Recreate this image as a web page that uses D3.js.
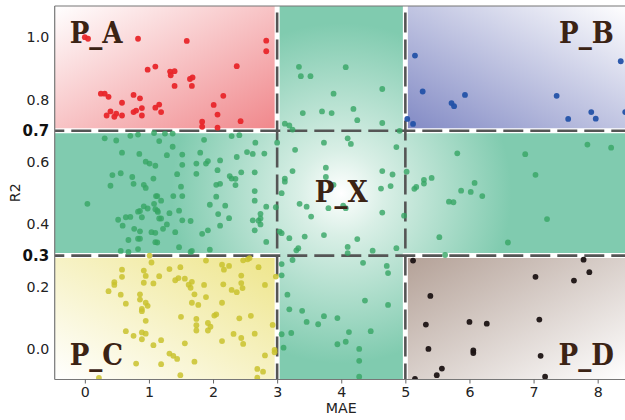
<!DOCTYPE html>
<html>
<head>
<meta charset="utf-8">
<script src="https://d3js.org/d3.v7.min.js"></script>
<style>
  body { margin: 0; background: #fff; }
  svg { display: block; }
</style>
</head>
<body>
<script>
// MAE / R2 scatter split in quadrant-like zones
var maeCuts = [3, 5];
var r2Cuts = [0.3, 0.7];
var xTicks = [0, 1, 2, 3, 4, 5, 6, 7, 8];
var yTicks = [0.0, 0.2, 0.4, 0.6, 0.8, 1.0];

var pointsA = [[0.0,1.0],[0.05,0.995],[0.83,0.995],[1.59,0.988],[2.37,0.907],[0.98,0.896],[1.10,0.906],[1.33,0.89],[1.40,0.891],[1.34,0.878],[1.64,0.866],[1.68,0.871],[1.40,0.844],[1.67,0.844],[0.25,0.819],[0.31,0.819],[0.37,0.809],[0.76,0.815],[0.86,0.804],[0.58,0.79],[2.16,0.812],[1.16,0.784],[1.10,0.774],[0.89,0.773],[2.01,0.783],[0.40,0.762],[0.49,0.755],[0.34,0.749],[0.46,0.745],[0.58,0.749],[0.76,0.76],[0.80,0.765],[0.89,0.749],[1.19,0.76],[2.07,0.752],[1.83,0.729],[2.43,0.731],[1.83,0.713],[2.07,0.71],[2.83,0.989],[2.83,0.955]];

var pointsB = [[5.93,0.815],[5.72,0.789],[5.76,0.779],[7.36,0.812],[7.54,0.738],[7.90,0.76],[7.97,0.739],[8.36,0.923],[8.43,0.76],[5.15,0.941],[5.27,0.826],[5.03,0.738],[5.12,0.722]];

var pointsC = [[1.01,0.30],[1.04,0.278],[0.58,0.255],[0.58,0.232],[0.92,0.252],[0.95,0.235],[0.92,0.213],[1.16,0.234],[1.07,0.211],[1.32,0.257],[1.49,0.263],[1.41,0.221],[1.46,0.228],[1.56,0.226],[1.67,0.216],[1.62,0.207],[1.65,0.197],[1.89,0.284],[2.14,0.271],[2.17,0.255],[2.25,0.267],[1.86,0.206],[2.16,0.208],[0.46,0.215],[0.46,0.206],[0.37,0.186],[0.56,0.175],[0.86,0.176],[0.86,0.159],[0.64,0.146],[0.95,0.149],[0.98,0.139],[0.89,0.129],[0.89,0.122],[1.71,0.176],[1.89,0.167],[1.67,0.149],[1.77,0.142],[2.29,0.19],[2.37,0.183],[2.44,0.236],[2.44,0.212],[2.47,0.285],[2.14,0.149],[0.95,0.091],[1.50,0.104],[1.74,0.097],[1.74,0.077],[1.74,0.06],[1.92,0.084],[1.96,0.072],[1.92,0.06],[2.02,0.108],[2.05,0.112],[2.41,0.099],[2.14,0.026],[2.32,0.049],[2.44,0.036],[0.64,0.058],[0.76,0.043],[0.89,0.054],[0.95,0.05],[0.89,0.032],[1.19,0.029],[1.07,0.013],[1.56,0.019],[1.32,-0.014],[1.38,-0.021],[1.44,-0.031],[1.71,-0.04],[1.19,-0.048],[0.80,-0.046],[1.49,-0.083],[0.22,-0.092],[2.54,0.288],[2.57,0.292],[2.71,0.263],[2.98,0.233],[2.81,0.206],[2.46,0.196],[2.59,0.107],[2.93,0.078],[2.65,0.05],[2.47,0.017],[2.96,-0.002],[2.96,-0.01],[2.81,-0.02],[2.69,-0.063],[2.78,-0.072],[2.69,-0.091]];

var pointsD = [[7.78,0.287],[7.87,0.247],[7.03,0.232],[7.63,0.22],[6.0,0.0875],[6.27,0.082],[7.09,0.095],[6.06,-0.004],[6.06,-0.012],[7.11,-0.021],[5.57,-0.062],[5.49,-0.083],[7.18,-0.088],[5.12,0.284],[5.39,0.171],[5.32,0.079],[5.36,0.001],[5.15,-0.095]];

var pointsX = [
  [3.34,0.905],[3.37,0.875],[3.52,0.875],[4.07,0.904],[3.88,0.819],[4.64,0.834],[3.40,0.757],[3.70,0.762],[3.85,0.757],[4.19,0.77],[4.25,0.734],[4.64,0.725],[3.12,0.723],[3.19,0.717],[3.24,0.704],
  [4.91,0.70],[3.0,0.662],[3.28,0.639],[3.73,0.662],[4.10,0.676],[4.15,0.658],[4.86,0.648],[3.24,0.571],[3.12,0.547],[3.12,0.537],[3.76,0.582],[3.76,0.552],[3.88,0.527],[4.64,0.571],[4.80,0.56],[4.77,0.523],[4.62,0.515],[3.07,0.50],[3.35,0.466],[3.46,0.457],[3.80,0.452],[4.03,0.46],[4.07,0.452],[3.53,0.425],[4.64,0.438],[4.98,0.428],[3.43,0.361],[3.73,0.366],[4.25,0.353],[4.10,0.328],[4.10,0.308],[4.49,0.316],[4.86,0.324],[3.04,0.377],[3.07,0.372],[3.19,0.356],[3.33,0.324],[3.30,0.317],
  [5.02,0.569],[5.29,0.543],[5.29,0.531],[5.41,0.549],[5.14,0.514],[5.17,0.52],[5.81,0.628],[6.87,0.625],[7.84,0.656],[8.21,0.646],[7.03,0.559],[6.08,0.533],[5.87,0.508],[6.02,0.504],[6.20,0.491],[5.68,0.473],[5.75,0.471],[7.21,0.417],[5.53,0.359],[6.60,0.342],[5.62,0.302],
  [2.66,0.662],[2.53,0.632],[2.62,0.626],[2.80,0.627],[2.65,0.507],[2.65,0.567],[2.65,0.476],[2.83,0.457],[2.98,0.455],[2.74,0.434],[2.74,0.419],[2.71,0.412],[2.62,0.413],[2.74,0.40],[2.65,0.381],[2.83,0.344],
  [0.31,0.676],[0.49,0.669],[0.71,0.684],[0.83,0.688],[1.08,0.693],[1.25,0.691],[1.37,0.691],[1.16,0.667],[1.37,0.649],[1.86,0.671],[2.29,0.683],[2.41,0.686],[0.58,0.63],[0.85,0.626],[1.28,0.622],[1.52,0.624],[1.80,0.63],[2.37,0.616],[0.95,0.601],[1.01,0.595],[1.10,0.588],[1.52,0.591],[1.74,0.595],[1.89,0.595],[1.92,0.603],[2.11,0.605],[2.07,0.574],[2.44,0.567],[0.56,0.564],[0.43,0.558],[0.74,0.552],[1.07,0.547],[1.44,0.561],[1.74,0.562],[2.26,0.555],[2.29,0.547],[2.35,0.546],[0.40,0.524],[0.76,0.53],[0.92,0.527],[0.95,0.517],[1.50,0.521],[2.05,0.527],[2.11,0.53],[2.35,0.526],
  [0.04,0.466],[0.52,0.415],[0.59,0.396],[0.64,0.423],[0.71,0.424],[0.83,0.441],[0.86,0.443],[0.92,0.458],[0.98,0.451],[0.89,0.423],[0.77,0.386],[0.86,0.378],[0.68,0.35],[0.83,0.354],[0.86,0.354],[0.83,0.321],[0.56,0.315],[0.68,0.312],[1.08,0.466],[1.11,0.491],[1.13,0.491],[1.19,0.476],[1.10,0.449],[1.13,0.444],[1.14,0.44],[1.19,0.419],[1.16,0.419],[1.32,0.436],[1.28,0.40],[1.22,0.386],[1.04,0.375],[1.10,0.373],[1.10,0.343],[1.13,0.342],[1.38,0.491],[1.52,0.491],[1.47,0.444],[1.52,0.413],[1.65,0.411],[1.41,0.375],[1.47,0.327],[1.65,0.312],[2.05,0.489],[1.95,0.463],[2.19,0.46],[2.08,0.433],[2.25,0.42],[2.11,0.396],[1.83,0.37],[1.92,0.381],[1.95,0.319],[1.67,0.315],
  [4.34,0.277],[4.71,0.267],[4.73,0.244],[4.37,0.156],[4.73,0.142],[3.39,0.123],[3.46,0.0875],[3.73,0.106],[3.64,0.08],[3.94,0.10],[4.12,0.055],[4.46,0.058],[4.07,0.024],[3.94,0.016],[4.28,0.001],[4.28,-0.037],[4.28,-0.088],[3.19,0.128],[3.16,0.175],[3.22,0.052],[3.07,0.048],[3.10,0.005],[3.07,0.273],[3.07,0.237],[3.24,0.286]
];

var width = 625, height = 420;

var x = d3.scaleLinear().domain([-0.47, 8.47]).range([54.7, 627.8]);
var y = d3.scaleLinear().domain([-0.097, 1.1]).range([379.5, 6]);
var xmin = x.domain()[0], xmax = x.domain()[1];
var ymin = y.domain()[0], ymax = y.domain()[1];

var svg = d3.select("body").append("svg")
    .attr("width", width)
    .attr("height", height)
    .style("font-family", "'DejaVu Sans', sans-serif");

var defs = svg.append("defs");

defs.append("clipPath").attr("id", "plotclip")
  .append("rect")
    .attr("x", x(xmin)).attr("y", y(ymax))
    .attr("width", x(xmax) - x(xmin))
    .attr("height", y(ymin) - y(ymax));

// corner zones: white at the outer corner, colour toward the middle
var zones = [
  {name: "P_A", x0: xmin, x1: maeCuts[0], y0: r2Cuts[1], y1: ymax, color: "#f0868a", dot: "#e8262a", from: [0, 0], to: [1, 1], pts: pointsA},
  {name: "P_B", x0: maeCuts[1], x1: xmax, y0: r2Cuts[1], y1: ymax, color: "#8189c4", dot: "#2352a8", from: [1, 0], to: [0, 1], pts: pointsB},
  {name: "P_C", x0: xmin, x1: maeCuts[0], y0: ymin, y1: r2Cuts[0], color: "#eee58a", dot: "#c9c22e", from: [0, 1], to: [1, 0], pts: pointsC},
  {name: "P_D", x0: maeCuts[1], x1: xmax, y0: ymin, y1: r2Cuts[0], color: "#b3a096", dot: "#1c1414", from: [1, 1], to: [0, 0], pts: pointsD}
];

zones.forEach(function(z){
  var g = defs.append("linearGradient").attr("id", "grad" + z.name)
    .attr("x1", z.from[0]).attr("y1", z.from[1])
    .attr("x2", z.to[0]).attr("y2", z.to[1]);
  g.append("stop").attr("offset", 0).attr("stop-color", "#ffffff");
  g.append("stop").attr("offset", 1).attr("stop-color", z.color);
});

var centre = [(maeCuts[0] + maeCuts[1]) / 2, (r2Cuts[0] + r2Cuts[1]) / 2];
var rg = defs.append("radialGradient").attr("id", "gradX")
  .attr("gradientUnits", "userSpaceOnUse")
  .attr("cx", x(centre[0])).attr("cy", y(centre[1]))
  .attr("r", 170);
rg.append("stop").attr("offset", 0).attr("stop-color", "#ffffff");
rg.append("stop").attr("offset", 0.25).attr("stop-color", "#d9efe6");
rg.append("stop").attr("offset", 1).attr("stop-color", "#80cbaf");

var plot = svg.append("g").attr("clip-path", "url(#plotclip)");

// green cross behind everything
plot.append("rect")
    .attr("x", x(xmin)).attr("y", y(ymax))
    .attr("width", x(xmax) - x(xmin))
    .attr("height", y(ymin) - y(ymax))
    .attr("fill", "url(#gradX)");

plot.selectAll(".zone").data(zones).enter().append("rect")
    .attr("class", "zone")
    .attr("x", d => x(d.x0))
    .attr("y", d => y(d.y1))
    .attr("width", d => x(d.x1) - x(d.x0))
    .attr("height", d => y(d.y0) - y(d.y1))
    .attr("fill", d => "url(#grad" + d.name + ")");

// white gutters along the inner edges of each corner zone
zones.forEach(function(z){
  var vx = z.x0 === xmin ? z.x1 : z.x0;
  var hy = z.y0 === ymin ? z.y1 : z.y0;
  plot.append("line")
      .attr("x1", x(vx)).attr("x2", x(vx))
      .attr("y1", y(z.y0)).attr("y2", y(z.y1))
      .attr("stroke", "#fff").attr("stroke-width", 5).attr("stroke-linecap", "square");
  plot.append("line")
      .attr("x1", x(z.x0)).attr("x2", x(z.x1))
      .attr("y1", y(hy)).attr("y2", y(hy))
      .attr("stroke", "#fff").attr("stroke-width", 5).attr("stroke-linecap", "square");
});

// threshold dashes
maeCuts.forEach(function(c){
  plot.append("line")
      .attr("x1", x(c)).attr("x2", x(c))
      .attr("y1", y(ymin)).attr("y2", y(ymax))
      .attr("stroke", "#555").attr("stroke-width", 2.6)
      .attr("stroke-dasharray", "20,7").attr("stroke-dashoffset", 4);
});
r2Cuts.forEach(function(c){
  plot.append("line")
      .attr("x1", x(xmin)).attr("x2", x(xmax))
      .attr("y1", y(c)).attr("y2", y(c))
      .attr("stroke", "#555").attr("stroke-width", 2.6)
      .attr("stroke-dasharray", "20,7").attr("stroke-dashoffset", 10.4);
});

// points
plot.selectAll(".ptX").data(pointsX).enter().append("circle")
    .attr("class", "ptX")
    .attr("cx", d => x(d[0])).attr("cy", d => y(d[1]))
    .attr("r", 2.9)
    .attr("fill", "#36a564").attr("fill-opacity", 0.8);

zones.forEach(function(z){
  plot.selectAll(".pt" + z.name).data(z.pts).enter().append("circle")
      .attr("class", "pt" + z.name)
      .attr("cx", d => x(d[0])).attr("cy", d => y(d[1]))
      .attr("r", 2.9)
      .attr("fill", z.dot)
      .attr("fill-opacity", z.name === "P_C" ? 0.85 : 0.95);
});

// spines
var sp = svg.append("g").attr("stroke", "#777").attr("stroke-width", 1.2);
sp.append("line").attr("x1", x(xmin)).attr("x2", x(xmin)).attr("y1", y(ymax)).attr("y2", y(ymin));
sp.append("line").attr("x1", x(xmin)).attr("x2", x(xmax)).attr("y1", y(ymax)).attr("y2", y(ymax));
sp.append("line").attr("x1", x(xmin)).attr("x2", x(xmax)).attr("y1", y(ymin)).attr("y2", y(ymin));

var tickSize = "14.2px";

// x axis
var xg = svg.append("g").attr("transform", "translate(0," + y(ymin) + ")")
  .call(d3.axisBottom(x).tickValues(xTicks).tickSize(4).tickPadding(3).tickFormat(d3.format("d")));
xg.select(".domain").remove();
xg.selectAll(".tick line").attr("stroke", "#666");
xg.selectAll(".tick text").attr("fill", "#222").style("font-size", tickSize).style("font-family", "'DejaVu Sans', sans-serif");

// y axis, cut values in bold
var yg = svg.append("g").attr("transform", "translate(" + x(xmin) + ",0)")
  .call(d3.axisLeft(y).tickValues(yTicks.concat(r2Cuts)).tickSize(0).tickPadding(5.5).tickFormat(d3.format(".1f")));
yg.select(".domain").remove();
yg.selectAll(".tick text")
    .attr("fill", d => r2Cuts.indexOf(d) >= 0 ? "#111" : "#222")
    .style("font-family", "'DejaVu Sans', sans-serif")
    .style("font-size", d => r2Cuts.indexOf(d) >= 0 ? "15px" : tickSize)
    .style("font-weight", d => r2Cuts.indexOf(d) >= 0 ? "bold" : "normal");

svg.append("text")
    .attr("x", (x(xmin) + x(xmax)) / 2).attr("y", 413)
    .attr("text-anchor", "middle")
    .attr("fill", "#222").style("font-size", tickSize)
    .text("MAE");

svg.append("text")
    .attr("transform", "translate(19.5," + (y(ymin) + y(ymax)) / 2 + ") rotate(-90)")
    .attr("text-anchor", "middle")
    .attr("fill", "#222").style("font-size", tickSize)
    .text("R2");

// zone labels
var labelFont = "'DejaVu Serif Condensed', 'DejaVu Serif', serif";
function zoneLabel(txt, px, py, anchor){
  svg.append("text")
      .attr("x", px).attr("y", py)
      .attr("text-anchor", anchor)
      .attr("fill", "#3b2314")
      .style("font-family", labelFont)
      .style("font-stretch", "condensed")
      .style("font-weight", "bold")
      .style("font-size", "29px")
      .text(txt);
}
zoneLabel("P_A", x(xmin) + 15, y(ymax) + 37, "start");
zoneLabel("P_B", x(xmax) - 14, y(ymax) + 37, "end");
zoneLabel("P_C", x(xmin) + 15, y(ymin) - 15, "start");
zoneLabel("P_D", x(xmax) - 14, y(ymin) - 15, "end");
zoneLabel("P_X", x(centre[0]), y(centre[1]) + 9, "middle");
</script>
</body>
</html>
